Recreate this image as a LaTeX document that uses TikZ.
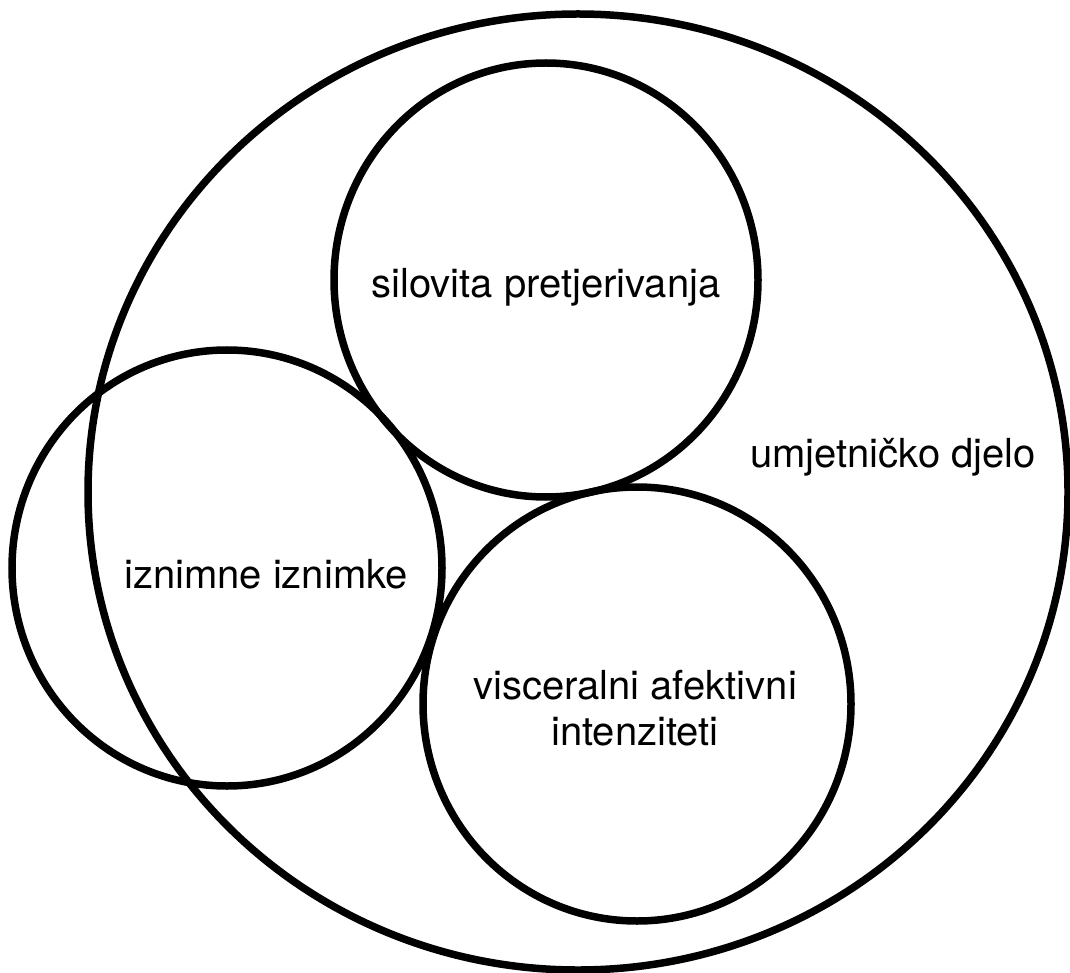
\documentclass[tikz,border=0pt]{standalone}
\usepackage{fontspec}
\setmainfont{TeX Gyre Heros}
\usepackage{tikz}
\usetikzlibrary{shapes.geometric}

\tikzset{
    bubble/.style={draw, ellipse, line width=7.5pt, inner sep=0pt, outer sep=0pt},
    label text/.style={font=\fontsize{40}{46}\selectfont, align=center}
}

\begin{document}
\begin{tikzpicture}[x=1pt, y=-1pt]
            \useasboundingbox (0, 0) rectangle (1070, 973);

            \node [bubble, minimum width=980pt, minimum height=956pt] (djelo) at (578, 492) {};
            \node [bubble, minimum width=424pt, minimum height=434pt] (silovita) at (546, 280) {};
            \node [bubble, minimum width=430pt, minimum height=436pt] (iznimne) at (227, 568) {};
            \node [bubble, minimum width=428pt, minimum height=434pt] (visceralni) at (637, 704) {};

            \node [label text] (silovitalabel) at (546, 287) {silovita pretjerivanja};
            \node [label text] (djelolabel) at (893, 457) {umjetničko djelo};
            \node [label text] (iznimnelabel) at (266, 574) {iznimne iznimke};
            \node [label text] (visceralnilabel) at (635, 708) {visceralni afektivni\\intenziteti};
        \end{tikzpicture}
\end{document}
